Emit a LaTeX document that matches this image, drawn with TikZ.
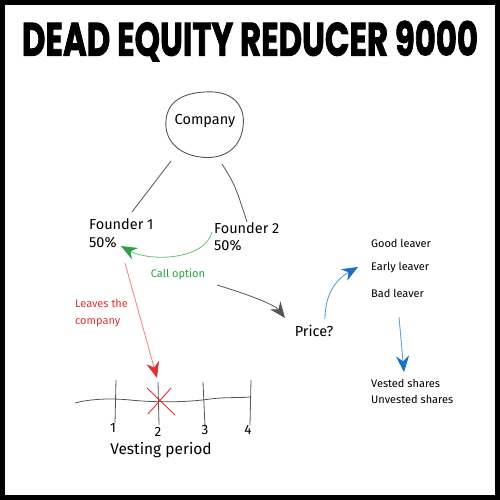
\documentclass[tikz,border=0pt]{standalone}
\usepackage{fontspec}
\setmainfont{Fira Sans}
\newfontfamily\titlefont{Poppins}[BoldFeatures={FakeBold=2}]
\usetikzlibrary{arrows.meta}
\definecolor{cgreen}{HTML}{2F9E44}
\definecolor{cred}{HTML}{E03131}
\definecolor{cblue}{HTML}{1971C2}
\definecolor{cgray}{HTML}{555555}
\begin{document}
\begin{tikzpicture}[x=1pt,y=-1pt,
  lbl/.style={font=\fontsize{14.5}{16}\selectfont, inner sep=0pt},
  small/.style={font=\fontsize{11}{13}\selectfont, inner sep=0pt},
  num/.style={font=\fontsize{13.5}{15}\selectfont, inner sep=0pt},
  conn/.style={draw=cgray, line width=0.8pt},
  tip/.style={-{Stealth[length=16pt,width=13pt]}},
]
\useasboundingbox (0,0) rectangle (500,500);
\draw[line width=5pt] (2.5,2.5) rectangle (497.5,497.5);
\node (title) at (250,41) {\resizebox{456pt}{35pt}{\titlefont\bfseries DEAD EQUITY REDUCER 9000}};

% company blob
\draw[cgray, line width=0.9pt] (205,92) .. controls (232,90) and (246,105) .. (243,127)
  .. controls (240,150) and (222,160) .. (200,157)
  .. controls (178,154) and (164,140) .. (166,120)
  .. controls (168,100) and (185,93) .. (205,92) -- cycle;
\node[lbl] (company) at (205,121) {Company};

\node[lbl, anchor=west] (f1) at (89,224) {Founder 1};
\node[lbl, anchor=west] (f1p) at (89,243) {50\%};
\node[lbl, anchor=west] (f2) at (214,228) {Founder 2};
\node[lbl, anchor=west] (f2p) at (214,246) {50\%};

\coordinate (c1) at (171,161);
\coordinate (c1e) at (132,212);
\coordinate (c2) at (222,164);
\coordinate (c2e) at (247,222);
\draw[conn] (c1) -- (c1e);
\draw[conn] (c2) .. controls (235,185) .. (c2e);

% call option
\coordinate (g1) at (212,232);
\coordinate (g2) at (121,246);
\draw[cgreen!70, line width=0.8pt, arrows={-{Stealth[length=16pt,width=13pt,color=cgreen]}}] (g1) .. controls (205,260) and (150,262) .. (g2);
\node[small, text=cgreen] (call) at (178,274) {Call option};

% to price
\coordinate (b1) at (217,285);
\node[lbl] (price) at (314,331) {Price?};
\coordinate (b2) at (285,318);
\draw[cgray, line width=0.8pt, tip] (b1) .. controls (250,295) and (275,305) .. (b2);

% blue arrow up
\coordinate (u1) at (325,319);
\coordinate (u2) at (358,267);
\draw[cblue!75, line width=0.8pt, arrows={-{Stealth[length=16pt,width=13pt,color=cblue]}}] (u1) .. controls (325,295) and (335,280) .. (u2);

\node[small, anchor=west] (good) at (371,243) {Good leaver};
\node[small, anchor=west] (early) at (371,268) {Early leaver};
\node[small, anchor=west] (bad) at (371,293) {Bad leaver};

\coordinate (d1) at (399,317);
\coordinate (d2) at (404,372);
\draw[cblue!75, line width=0.8pt, arrows={-{Stealth[length=16pt,width=13pt,color=cblue]}}] (d1) -- (d2);
\node[small, anchor=west] (vested) at (371,383) {Vested shares};
\node[small, anchor=west] (unvested) at (371,399) {Unvested shares};

% leaves
\coordinate (r1) at (125,263);
\coordinate (r2) at (157,378);
\draw[cred!60, line width=0.8pt, arrows={-{Stealth[length=16pt,width=13pt,color=cred]}}] (r1) -- (r2);
\node[small, text=cred, anchor=west] (leaves) at (75,303) {Leaves the};
\node[small, text=cred, anchor=west] (comp2) at (75,323) {company};

% timeline
\draw[cgray, line width=0.8pt] (75,403) .. controls (90,399) and (110,398) .. (130,400)
  .. controls (160,403) and (190,402) .. (210,399)
  .. controls (225,397) and (240,398) .. (250,397);
\draw[cgray, line width=0.8pt] (116,380) -- (115,423);
\draw[cgray, line width=0.8pt] (158,382) -- (159,425);
\draw[cgray, line width=0.8pt] (203,382) -- (205,427);
\draw[cgray, line width=0.8pt] (251,380) -- (250,425);
\draw[cred, line width=0.9pt] (147,388) -- (175,415);
\draw[cred, line width=0.9pt] (171,388) -- (148,414);

\node[num] (n1) at (113,428) {1};
\node[num] (n2) at (158,432) {2};
\node[num] (n3) at (205,430) {3};
\node[num] (n4) at (248,430) {4};
\node[lbl, font=\fontsize{15.5}{17}\selectfont] (vp) at (161,450) {Vesting period};
\end{tikzpicture}
\end{document}
